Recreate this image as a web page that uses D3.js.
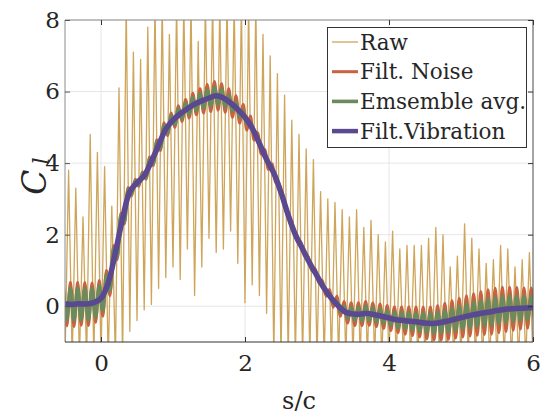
<!DOCTYPE html>
<html>
<head>
<meta charset="utf-8">
<script src="https://cdn.jsdelivr.net/npm/d3@7"></script>
<style>
  body { margin:0; background:#fff; }
  svg text { font-family:"DejaVu Serif", serif; fill:#262626; }
</style>
</head>
<body>
<div id="plot"></div>
<script>
// s/c sample positions, one per oscillation cycle (step 0.1)
var sc = d3.range(66).map(function(i){ return -0.5 + i*0.1; });

// Filt.Vibration (smooth mean curve)
var vibration = [0.07,0.05,0.07,0.06,0.1,
  0.22,0.65,1.5,2.45,3.2,3.45,3.65,4.05,4.5,4.95,
  5.2,5.38,5.52,5.65,5.74,5.82,5.88,5.82,5.68,5.5,
  5.28,4.98,4.55,4.1,3.72,3.18,2.55,2.0,1.6,1.2,
  0.85,0.5,0.22,0.0,-0.17,-0.22,-0.22,-0.2,-0.24,-0.28,
  -0.33,-0.38,-0.4,-0.42,-0.44,-0.47,-0.48,-0.46,-0.42,-0.37,
  -0.32,-0.27,-0.23,-0.19,-0.16,-0.12,-0.09,-0.07,-0.06,-0.05,-0.04];

// half peak-to-peak swing of Filt. Noise around the mean
var noiseAmp = [0.62,0.62,0.6,0.6,0.55,
  0.5,0.35,0.2,0.15,0.12,0.1,0.1,0.12,0.15,0.18,
  0.2,0.22,0.26,0.3,0.34,0.38,0.4,0.4,0.4,0.38,
  0.36,0.34,0.3,0.28,0.26,0.24,0.22,0.2,0.2,0.2,
  0.2,0.22,0.25,0.28,0.3,0.32,0.32,0.33,0.33,0.34,
  0.35,0.36,0.38,0.4,0.42,0.44,0.46,0.48,0.5,0.52,
  0.54,0.56,0.58,0.6,0.62,0.62,0.62,0.6,0.58,0.56,0.55];

// half peak-to-peak swing of the ensemble average
var ensAmp = [0.45,0.45,0.44,0.44,0.4,
  0.35,0.22,0.12,0.08,0.06,0.05,0.05,0.06,0.08,0.1,
  0.12,0.13,0.15,0.18,0.2,0.22,0.24,0.24,0.22,0.2,
  0.18,0.16,0.14,0.12,0.1,0.1,0.1,0.1,0.1,0.1,
  0.1,0.11,0.13,0.15,0.17,0.18,0.19,0.2,0.2,0.2,
  0.21,0.22,0.23,0.24,0.25,0.27,0.28,0.29,0.3,0.31,
  0.32,0.33,0.34,0.35,0.36,0.36,0.36,0.35,0.34,0.33,0.32];

// raw signal: spike top and bottom of each cycle
var rawHi = [3.8,3.3,2.5,4.8,4.3,
  3.9,2.8,6.1,8.5,7.1,6.9,7.8,8.5,8.5,7.6,
  8.5,8.5,8.5,7.4,8.5,8.5,8.5,8.5,8.5,8.5,
  8.5,8.5,7.6,7.0,6.5,5.9,5.2,4.8,4.4,4.1,
  3.2,3.0,2.9,2.7,2.5,2.7,2.2,2.4,2.0,1.8,
  2.1,1.6,1.7,1.7,1.7,1.9,2.2,2.0,1.1,1.4,
  2.3,1.9,1.6,1.2,1.3,1.7,1.6,1.1,1.3,1.5,2.0];
var rawLo = [-1.5,-1.5,-1.5,-1.5,-1.5,
  -1.5,-1.5,-1.5,-1.5,-0.7,-0.4,-0.1,0.05,0.5,0.8,
  1.1,0.75,1.6,0.3,1.1,1.9,1.5,1.6,2.1,1.2,
  0.1,0.6,0.3,-0.2,-1.5,-1.5,-1.5,-1.5,-1.5,-1.5,
  -1.5,-1.5,-1.5,-1.5,-1.5,-1.5,-1.5,-1.5,-1.5,-1.5,
  -1.5,-1.5,-1.5,-1.5,-1.5,-1.5,-1.5,-1.5,-1.5,-1.5,
  -1.5,-1.5,-1.5,-1.5,-1.5,-1.5,-1.5,-1.5,-1.5,-1.5,-1.5];

var xTicks = [0,2,4,6];
var yTicks = [0,2,4,6,8];
var legendNames = ["Raw","Filt. Noise","Emsemble avg.","Filt.Vibration"];
var colors = ["#cea55a","#c8623f","#6c8a5b","#5a4890"];
var widths = [1.3,3,3.6,5.5];

var W = 540, H = 417;
var margin = {t:20,r:7,b:75,l:65};
var width = W - margin.l - margin.r,
    height = H - margin.t - margin.b;

var svg = d3.select('#plot').append('svg')
    .attr('width',W).attr('height',H);

var x = d3.scaleLinear().domain([-0.5,6]).range([margin.l, margin.l+width]);
var y = d3.scaleLinear().domain([-1,8]).range([margin.t+height, margin.t]);

svg.append('defs').append('clipPath').attr('id','clip')
  .append('rect').attr('x',x(-0.5)).attr('y',y(8)).attr('width',width).attr('height',height);

//grid
var grid = svg.append('g');
grid.selectAll('.gx').data(xTicks).enter().append('line')
  .attr('x1',function(d){return x(d);}).attr('x2',function(d){return x(d);})
  .attr('y1',y(-1)).attr('y2',y(8))
  .style('stroke','#e6e6e6').style('stroke-width',1);
grid.selectAll('.gy').data(yTicks).enter().append('line')
  .attr('y1',function(d){return y(d);}).attr('y2',function(d){return y(d);})
  .attr('x1',x(-0.5)).attr('x2',x(6))
  .style('stroke','#e6e6e6').style('stroke-width',1);

var plot = svg.append('g').attr('clip-path','url(#clip)');

// build point lists from the arrays
var rawPts = [], noisePts = [], ensPts = [];
sc.forEach(function(s,i){
  rawPts.push([s, rawLo[i]]);
  rawPts.push([s+0.05, rawHi[i]]);
  noisePts.push([s-0.025, vibration[i]+noiseAmp[i]]);
  noisePts.push([s+0.025, vibration[i]-noiseAmp[i]]);
  ensPts.push([s-0.025, vibration[i]+ensAmp[i]]);
  ensPts.push([s+0.025, vibration[i]-ensAmp[i]]);
});
var vibPts = sc.map(function(s,i){ return [s, vibration[i]]; });

var lineLin = d3.line().x(function(d){return x(d[0]);}).y(function(d){return y(d[1]);});
var lineSm = d3.line().x(function(d){return x(d[0]);}).y(function(d){return y(d[1]);})
  .curve(d3.curveMonotoneX);
var lineCr = d3.line().x(function(d){return x(d[0]);}).y(function(d){return y(d[1]);})
  .curve(d3.curveCatmullRom);

[[rawPts,lineLin],[noisePts,lineSm],[ensPts,lineSm],[vibPts,lineCr]]
  .forEach(function(p,k){
    plot.append('path').datum(p[0])
      .attr('d',p[1])
      .style('fill','none')
      .style('stroke',colors[k])
      .style('stroke-width',widths[k])
      .style('stroke-linejoin','round');
  });

//axes box
var ax = svg.append('g');
ax.append('line').attr('x1',x(-0.5)).attr('x2',x(6)).attr('y1',y(8)).attr('y2',y(8)).style('stroke','#8c8c8c');
ax.append('line').attr('x1',x(-0.5)).attr('x2',x(-0.5)).attr('y1',y(-1)).attr('y2',y(8)).style('stroke','#8c8c8c');
ax.append('line').attr('x1',x(-0.5)).attr('x2',x(6)).attr('y1',y(-1)).attr('y2',y(-1)).style('stroke','#333');
ax.append('line').attr('x1',x(6)).attr('x2',x(6)).attr('y1',y(-1)).attr('y2',y(8)).style('stroke','#555');

var xAxis = d3.axisBottom(x).tickValues(xTicks).tickSize(-5).tickPadding(13).tickFormat(d3.format('d'));
var gx = svg.append('g').attr('transform','translate(0,'+y(-1)+')').call(xAxis);
gx.select('.domain').remove();
gx.selectAll('.tick line').style('stroke','#333');
gx.selectAll('.tick text').style('font-size','23px').style('font-family','"DejaVu Serif", serif').style('fill','#262626');

var gxt = svg.append('g').attr('transform','translate(0,'+y(8)+')').call(d3.axisTop(x).tickValues(xTicks).tickSize(-5).tickFormat(''));
gxt.select('.domain').remove();
gxt.selectAll('.tick line').style('stroke','#333');

var yAxis = d3.axisLeft(y).tickValues(yTicks).tickSize(-5).tickPadding(5).tickFormat(d3.format('d'));
var gy = svg.append('g').attr('transform','translate('+x(-0.5)+',0)').call(yAxis);
gy.select('.domain').remove();
gy.selectAll('.tick line').style('stroke','#555');
gy.selectAll('.tick text').style('font-size','23px').style('font-family','"DejaVu Serif", serif').style('fill','#262626');

var gyr = svg.append('g').attr('transform','translate('+x(6)+',0)').call(d3.axisRight(y).tickValues(yTicks).tickSize(-5).tickFormat(''));
gyr.select('.domain').remove();
gyr.selectAll('.tick line').style('stroke','#333');

//labels
svg.append('text').attr('x',(x(-0.5)+x(6))/2).attr('y',409)
  .attr('text-anchor','middle').style('font-size','24px').text('s/c');

var yl = svg.append('text').attr('transform','translate(46,176) rotate(-90)')
  .attr('text-anchor','middle').style('font-size','33px').style('font-style','italic');
yl.append('tspan').text('C');
yl.append('tspan').attr('dx',5).attr('dy',3).style('font-size','22px').text('l');

//legend
var lg = svg.append('g');
lg.append('rect').attr('x',327.5).attr('y',27.5).attr('width',199).attr('height',120)
  .style('fill','#fff').style('stroke','#333').style('stroke-width',1);
legendNames.forEach(function(n,i){
  var ly = 42 + i*29.7;
  lg.append('line').attr('x1',332).attr('x2',358).attr('y1',ly).attr('y2',ly)
    .style('stroke',colors[i]).style('stroke-width',Math.min(widths[i],4.5));
  lg.append('text').attr('x',360).attr('y',ly+7.5).style('font-size','21.5px').text(n);
});
</script>
</body>
</html>
